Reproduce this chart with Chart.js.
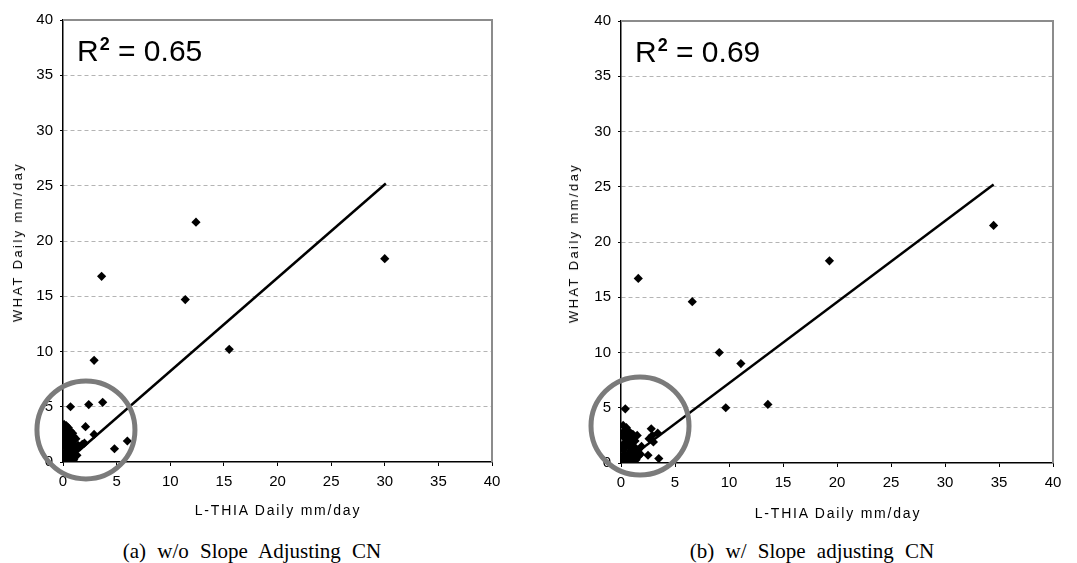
<!DOCTYPE html>
<html><head><meta charset="utf-8">
<script src="https://cdn.jsdelivr.net/npm/chart.js@4.4.1/dist/chart.umd.min.js"></script>
<style>
html,body{margin:0;padding:0;background:#fff;width:1077px;height:563px;overflow:hidden}
.panel{position:absolute;top:0;height:530px}
#pa{left:0;width:540px}
#pb{left:540px;width:537px}
.cap{position:absolute;top:539px;font-family:"Liberation Serif","Times New Roman",serif;font-size:21px;word-spacing:6px;white-space:nowrap;transform:translateX(-50%);color:#000;line-height:24px}
.xt,.yt{position:absolute;font-family:"Liberation Sans",Arial,sans-serif;white-space:nowrap;color:#000;line-height:16px}
.xt{font-size:14px;letter-spacing:1.8px;transform:translate(-50%,-50%)}
.yt{font-size:13px;letter-spacing:2.4px;transform:translate(-50%,-50%) rotate(-90deg)}
</style></head><body>
<div class="panel" id="pa"><canvas id="ca" width="540" height="530"></canvas></div>
<div class="panel" id="pb"><canvas id="cb" width="537" height="530"></canvas></div>
<div class="yt" id="yta" style="left:18px;top:242px"></div>
<div class="yt" id="ytb" style="left:574px;top:243px"></div>
<div class="xt" id="xta" style="left:278px;top:510px"></div>
<div class="xt" id="xtb" style="left:838px;top:513px"></div>
<div class="cap" style="left:252px">(a) w/o Slope Adjusting CN</div>
<div class="cap" style="left:812px">(b) w/ Slope adjusting CN</div>
<script>
// ---- data ----
const axisTicks = [0, 5, 10, 15, 20, 25, 30, 35, 40];
const xTitle = 'L-THIA Daily mm/day';
const yTitle = 'WHAT Daily mm/day';

// (a) w/o slope adjusting CN
const aX = [3.6, 12.4, 30.0, 11.4, 15.5, 2.9, 0.7, 2.4, 3.7, 2.1, 2.9, 4.8, 6.0, 2.0,
  0.1, 0.3, 0.2, 0.5, 0.1, 0.4, 0.7, 0.9, 0.2, 0.6, 1.0, 0.3, 0.8, 1.2, 0.1, 0.5, 1.0, 1.4,
  0.3, 0.7, 1.1, 0.2, 0.6, 0.9, 0.4, 0.1, 0.7, 0.3, 0.05, 1.0, 0.5, 1.6, 1.8, 1.3];
const aY = [16.8, 21.7, 18.4, 14.7, 10.2, 9.2, 5.0, 5.2, 5.4, 3.2, 2.5, 1.2, 1.9, 1.7,
  3.4, 3.3, 3.0, 3.1, 2.7, 2.6, 2.8, 2.6, 2.3, 2.2, 2.3, 2.0, 2.0, 2.1, 1.7, 1.7, 1.6, 1.5,
  1.3, 1.2, 1.1, 0.9, 0.8, 0.7, 0.5, 0.4, 0.3, 0.1, 0.05, 0.2, 0.0, 1.4, 1.6, 0.6];
const aFitX = [0.3, 30.1];
const aFitY = [0.02, 25.2];
const aR2 = '0.65';
const aCircle = [2.14, 2.9];

// (b) w/ slope adjusting CN
const bX = [1.6, 19.3, 34.5, 6.6, 9.1, 11.1, 9.7, 13.6, 0.4, 3.5, 2.5, 2.8, 3.4, 2.6, 3.0, 2.9,
  0.2, 0.5, 0.3, 0.8, 1.1, 1.5, 0.2, 0.6, 1.0, 0.3, 0.7, 1.2, 0.2, 0.9, 1.6, 1.9, 0.4, 1.1,
  0.7, 0.2, 1.4, 0.9, 0.1, 1.8, 0.5,
  0.3, 0.6, 0.9, 1.3, 0.4, 0.8, 1.2, 0.5, 1.6, 0.1, 0.1];
const bY = [16.7, 18.3, 21.5, 14.6, 10.0, 9.0, 5.0, 5.3, 4.9, 0.4, 0.7, 3.1, 2.7, 2.2, 1.9, 2.5,
  3.4, 3.2, 2.9, 2.8, 2.6, 2.5, 2.4, 2.2, 2.0, 1.8, 1.6, 1.5, 1.2, 1.1, 1.2, 1.5, 0.8, 0.6,
  0.4, 0.2, 0.3, 0.1, 0.0, 0.8, 0.6,
  2.6, 2.7, 2.3, 2.0, 1.4, 0.9, 0.9, 0.2, 0.6, 1.5, 0.6];
const bFitX = [0.2, 34.5];
const bFitY = [0.03, 25.2];
const bR2 = '0.69';
const bCircle = [1.76, 3.35];

// ---- axis titles as text ----
['yta', 'ytb'].forEach(id => document.getElementById(id).textContent = yTitle);
['xta', 'xtb'].forEach(id => document.getElementById(id).textContent = xTitle);

// ---- drawing ----
const FONT = '"Liberation Sans", Arial, sans-serif';

const decor = {
  id: 'decor',
  beforeDatasetsDraw(chart) {
    const {ctx, chartArea: a} = chart;
    ctx.save();
    ctx.strokeStyle = '#8c8c8c';
    ctx.lineWidth = 2;
    ctx.beginPath();
    ctx.moveTo(a.left, a.top);
    ctx.lineTo(a.right, a.top);
    ctx.lineTo(a.right, a.bottom);
    ctx.stroke();
    ctx.restore();
  },
  afterDraw(chart, args, opts) {
    const {ctx, chartArea: a} = chart;
    ctx.save();
    ctx.fillStyle = '#000';
    ctx.textBaseline = 'alphabetic';
    let x = a.left + 14;
    const base = a.top + 41;
    ctx.font = '30px ' + FONT;
    ctx.fillText('R', x, base);
    x += ctx.measureText('R').width + 1;
    ctx.font = 'bold 18px ' + FONT;
    ctx.fillText('2', x, base - 11);
    x += ctx.measureText('2').width;
    ctx.font = '30px ' + FONT;
    ctx.fillText(' = ' + opts.r2, x, base);
    ctx.restore();
  }
};

function makeChart(id, xs, ys, fitX, fitY, circle, r2, g) {
  const pts = xs.map((x, i) => ({x: x, y: ys[i]}));
  const fit = fitX.map((x, i) => ({x: x, y: fitY[i]}));
  new Chart(document.getElementById(id), {
    type: 'scatter',
    data: {
      datasets: [
        {type: 'bubble', data: [{x: circle[0], y: circle[1], r: 49}], borderColor: '#7b7b7b',
          borderWidth: 5, backgroundColor: 'rgba(0,0,0,0)', clip: false, order: 0},
        {type: 'line', data: fit, borderColor: '#000', borderWidth: 2.5, pointRadius: 0,
          fill: false, order: 1},
        {type: 'scatter', data: pts, pointStyle: 'rectRot', pointRadius: 4.6,
          backgroundColor: '#000', borderColor: '#000', borderWidth: 0, order: 2}
      ]
    },
    options: {
      responsive: false,
      animation: false,
      events: [],
      layout: {autoPadding: false, padding: {left: 0, right: g.padR, top: g.padT, bottom: 0}},
      plugins: {legend: {display: false}, tooltip: {enabled: false}, decor: {r2: r2}},
      scales: {
        x: {
          type: 'linear', min: 0, max: 40,
          afterBuildTicks(s) { s.ticks = axisTicks.map(v => ({value: v})); },
          ticks: {font: {family: FONT, size: 15}, color: '#000', padding: 7, maxRotation: 0},
          grid: {drawOnChartArea: false, tickLength: 4, tickColor: '#000', color: '#000'},
          border: {color: '#000', width: 1.5},
          title: {display: false},
          afterFit(s) { s.height = g.xH; }
        },
        y: {
          type: 'linear', min: 0, max: 40,
          afterBuildTicks(s) { s.ticks = axisTicks.map(v => ({value: v})); },
          ticks: {font: {family: FONT, size: 15}, color: '#000', padding: 7},
          grid: {
            color: c => (c.tick && c.tick.value > 0 && c.tick.value < 40) ? '#b4b4b4' : 'rgba(0,0,0,0)',
            tickColor: '#000', tickLength: 3, lineWidth: 1
          },
          border: {color: '#000', width: 1.5, dash: [4, 3]},
          title: {display: false},
          afterFit(s) { s.width = g.yW; }
        }
      }
    },
    plugins: [decor]
  });
}

makeChart('ca', aX, aY, aFitX, aFitY, aCircle, aR2, {yW: 63, padR: 48, padT: 20, xH: 68});
makeChart('cb', bX, bY, bFitX, bFitY, bCircle, bR2, {yW: 81, padR: 24, padT: 21, xH: 67});
</script>
</body></html>
